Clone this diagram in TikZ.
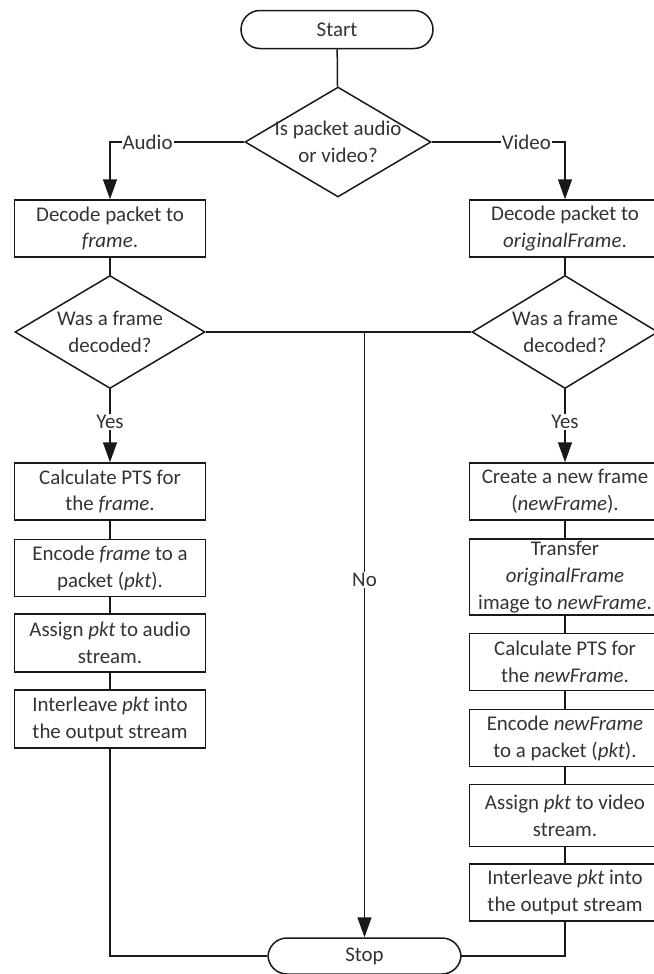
\documentclass[tikz,border=0pt]{standalone}
\usepackage{fontspec}
\setmainfont{Carlito}
\usetikzlibrary{arrows.meta,shapes.geometric}

\begin{document}
\begin{tikzpicture}[x=1bp,y=-1bp,>={Triangle[length=20bp,width=14bp]},
    font=\fontsize{21}{27}\selectfont,
    flowline/.style={line width=1.5bp,draw=black!90},
    procbox/.style={rectangle,flowline,minimum width=191bp,minimum height=57bp,
      align=center,inner sep=2bp,text=black!80},
    termbox/.style={procbox,rounded corners=19bp,minimum width=192bp,minimum height=38bp},
    decbox/.style={diamond,flowline,minimum width=190bp,minimum height=113bp,inner sep=0pt},
    declabel/.style={align=center,text=black!80},
    edgelabel/.style={fill=white,inner sep=1bp,text=black!80}]
    \useasboundingbox (0,0) rectangle (654,974);
    \clip (0,0) rectangle (654,974);
    % --- top : start and packet type
    \node[termbox] (start) at (337,29.5) {Start};
    \node[decbox,minimum width=186bp,minimum height=110bp,
      label={[declabel]center:Is packet audio\\or video?}] (kind) at (338,142) {};
    % --- left column : audio packets
    \node[procbox] (adecode) at (110,228.5) {Decode packet to\\\textit{frame}.};
    \node[decbox,label={[declabel]center:Was a frame\\decoded?}] (adone) at (110,332) {};
    \node[procbox] (apts) at (110,491.5) {Calculate PTS for\\the \textit{frame}.};
    \node[procbox] (aencode) at (110,568) {Encode \textit{frame} to a\\packet (\textit{pkt}).};
    \node[procbox,minimum height=58bp] (aassign) at (110,643) {Assign \textit{pkt} to audio\\stream.};
    \node[procbox,minimum height=58bp] (ainter) at (110,719) {Interleave \textit{pkt} into\\the output stream};
    % --- right column : video packets
    \node[procbox] (vdecode) at (565,228.5) {Decode packet to\\\textit{originalFrame}.};
    \node[decbox,minimum width=186bp,label={[declabel]center:Was a frame\\decoded?}] (vdone) at (565,332) {};
    \node[procbox] (vnew) at (565,491.5) {Create a new frame\\(\textit{newFrame}).};
    \node[procbox,minimum height=74bp] (vcopy) at (565,577) {Transfer\\\textit{originalFrame}\\image to \textit{newFrame}.};
    \node[procbox] (vpts) at (565,662) {Calculate PTS for\\the \textit{newFrame}.};
    \node[procbox] (vencode) at (565,738) {Encode \textit{newFrame}\\to a packet (\textit{pkt}).};
    \node[procbox,minimum height=62bp] (vassign) at (565,815.5) {Assign \textit{pkt} to video\\stream.};
    \node[procbox] (vinter) at (565,892.5) {Interleave \textit{pkt} into\\the output stream};
    % --- bottom : stop
    \node[termbox,minimum width=193bp,minimum height=36bp] (stop) at (364.5,956) {Stop};
    % --- connectors
    \draw[flowline] (start) -- (kind);
    \draw[flowline,->] (kind.west) -| node[edgelabel,pos=0.36] {Audio} (adecode.north);
    \draw[flowline,->] (kind.east) -| node[edgelabel,pos=0.355] {Video} (vdecode.north);
    \draw[flowline] (adecode) -- (adone);
    \draw[flowline] (vdecode) -- (vdone);
    \draw[flowline,->] (adone.south) -- node[edgelabel,pos=0.45] {Yes} (apts.north);
    \draw[flowline,->] (vdone.south) -- node[edgelabel,pos=0.45] {Yes} (vnew.north);
    \draw[flowline] (apts) -- (aencode);
    \draw[flowline] (aencode) -- (aassign);
    \draw[flowline] (aassign) -- (ainter);
    \draw[flowline] (vnew) -- (vcopy);
    \draw[flowline] (vcopy) -- (vpts);
    \draw[flowline] (vpts) -- (vencode);
    \draw[flowline] (vencode) -- (vassign);
    \draw[flowline] (vassign) -- (vinter);
    \draw[flowline] (adone.east) -- (vdone.west);
    \coordinate (nojoin) at (adone.east -| stop.north);
    \draw[flowline,->] (nojoin) -- node[edgelabel,pos=0.41] {No} (stop.north);
    \draw[flowline] (ainter.south) |- (stop.west);
    \draw[flowline] (vinter.south) |- (stop.east);
\end{tikzpicture}
\end{document}
